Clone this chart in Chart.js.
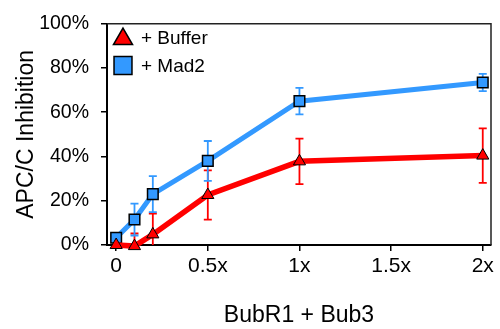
<!DOCTYPE html>
<html>
<head>
<meta charset="utf-8">
<script src="https://cdn.jsdelivr.net/npm/chart.js@4"></script>
<style>
  html, body { margin: 0; padding: 0; background: #fff; }
  #wrap { width: 500px; height: 329px; }
</style>
</head>
<body>
<div id="wrap"><canvas id="chart" width="500" height="329"></canvas></div>
<script>
const Colors = {
    RED: 'rgb(255, 0, 0)',
    BLUE: 'rgb(51, 153, 255)',
    BLACK: 'rgb(0, 0, 0)'
};

// BubR1 + Bub3 amount (relative)
const doses = [0, 0.1, 0.2, 0.5, 1, 2];
const tickValues = [0, 0.5, 1, 1.5, 2];
const tickLabels = ['0', '0.5x', '1x', '1.5x', '2x'];

// APC/C inhibition, %
const bufferValues = [0, -0.5, 4.8, 22.6, 37.8, 40.4];
const bufferErrors = [0, 5.7, 9.4, 11.1, 10.3, 12.3];
const mad2Values = [3.3, 11.5, 23.0, 38.0, 65.0, 73.4];
const mad2Errors = [0, 7.2, 8.1, 9.0, 6.0, 3.9];

const FONT = "'Liberation Sans', Arial, Helvetica, sans-serif";

function toPoints(values) {
    return doses.map((d, i) => ({ x: d, y: values[i] }));
}

// error bars (from the chart's scales), plot frame and the in-plot legend
const extras = {
    id: 'extras',
    beforeDatasetsDraw(chart) {
        const ctx = chart.ctx;
        const xs = chart.scales.x, ys = chart.scales.y;
        const area = chart.chartArea;
        ctx.save();
        ctx.beginPath();
        ctx.rect(area.left, area.top - 10, area.right - area.left, area.bottom - area.top + 10);
        ctx.clip();
        chart.data.datasets.forEach((ds) => {
            ctx.strokeStyle = ds.borderColor;
            ctx.lineWidth = 1.8;
            ds.errors.forEach((err, i) => {
                if (!err) return;
                const px = xs.getPixelForValue(doses[i]);
                const top = ys.getPixelForValue(ds.values[i] + err);
                const bot = ys.getPixelForValue(ds.values[i] - err);
                ctx.beginPath();
                ctx.moveTo(px, top); ctx.lineTo(px, bot);
                ctx.moveTo(px - 4, top); ctx.lineTo(px + 4, top);
                ctx.moveTo(px - 4, bot); ctx.lineTo(px + 4, bot);
                ctx.stroke();
            });
        });
        ctx.restore();
    },
    afterDraw(chart) {
        const { left, right, top, bottom } = chart.chartArea;
        const ctx = chart.ctx;
        ctx.save();
        ctx.strokeStyle = '#222';
        ctx.lineWidth = 1.5;
        ctx.beginPath();
        ctx.moveTo(left, top); ctx.lineTo(right, top); ctx.lineTo(right, bottom);
        ctx.stroke();

        // legend
        const rows = [
            { marker: 39, base: 43.5, r: 11 },
            { marker: 65.5, base: 72, r: 12.7 }
        ];
        chart.data.datasets.forEach((ds, i) => {
            const row = rows[i];
            ctx.fillStyle = ds.pointBackgroundColor;
            ctx.strokeStyle = ds.pointBorderColor;
            ctx.lineWidth = 1.5;
            Chart.helpers.drawPoint(ctx, {
                pointStyle: ds.pointStyle, radius: row.r, rotation: 0, borderWidth: 1.5
            }, left + 16, row.marker);
            ctx.fillStyle = Colors.BLACK;
            ctx.font = '19px ' + FONT;
            ctx.textBaseline = 'alphabetic';
            ctx.textAlign = 'left';
            ctx.fillText(ds.label, left + 34, row.base);
        });
        ctx.restore();
    }
};

const data = {
    datasets: [{
        label: '+ Buffer',
        data: toPoints(bufferValues),
        values: bufferValues,
        errors: bufferErrors,
        borderColor: Colors.RED,
        backgroundColor: Colors.RED,
        borderWidth: 5.5,
        pointStyle: 'triangle',
        pointRadius: 7,
        pointBackgroundColor: Colors.RED,
        pointBorderColor: Colors.BLACK,
        pointBorderWidth: 1,
        clip: false
    }, {
        label: '+ Mad2',
        data: toPoints(mad2Values),
        values: mad2Values,
        errors: mad2Errors,
        borderColor: Colors.BLUE,
        backgroundColor: Colors.BLUE,
        borderWidth: 5,
        pointStyle: 'rect',
        pointRadius: 7.5,
        pointBackgroundColor: Colors.BLUE,
        pointBorderColor: Colors.BLACK,
        pointBorderWidth: 1.5,
        clip: false
    }]
};

const config = {
    type: 'line',
    data: data,
    plugins: [extras],
    options: {
        responsive: false,
        animation: false,
        events: [],
        layout: { padding: { left: 0, right: 8, top: 19, bottom: 0 } },
        plugins: {
            legend: { display: false },
            tooltip: { enabled: false }
        },
        scales: {
            x: {
                type: 'linear',
                min: -0.05,
                max: 2.045,
                afterBuildTicks: (scale) => {
                    scale.ticks = tickValues.map(v => ({ value: v }));
                },
                afterFit: (scale) => { scale.height = 84; },
                ticks: {
                    color: Colors.BLACK,
                    padding: 3,
                    maxRotation: 0,
                    font: { family: FONT, size: 21 },
                    callback: (v) => tickLabels[tickValues.indexOf(v)]
                },
                grid: { drawOnChartArea: false, drawTicks: true, tickLength: 6, color: Colors.BLACK, lineWidth: 1.5 },
                border: { color: Colors.BLACK, width: 2 },
                title: {
                    display: true,
                    text: 'BubR1 + Bub3',
                    color: Colors.BLACK,
                    font: { family: FONT, size: 23 },
                    padding: { top: 0, bottom: 0 }
                }
            },
            y: {
                min: 0,
                max: 100,
                afterFit: (scale) => { scale.width = 107; },
                ticks: {
                    stepSize: 20,
                    color: Colors.BLACK,
                    padding: 12,
                    font: { family: FONT, size: 19.5 },
                    callback: (v) => v + '%'
                },
                grid: { drawOnChartArea: false, drawTicks: true, tickLength: 6, color: Colors.BLACK, lineWidth: 1.5 },
                border: { color: Colors.BLACK, width: 2 },
                title: {
                    display: true,
                    text: 'APC/C Inhibition',
                    color: Colors.BLACK,
                    font: { family: FONT, size: 23 },
                    padding: { top: 13, bottom: 0 }
                }
            }
        }
    }
};

const chart = new Chart(document.getElementById('chart'), config);
</script>
</body>
</html>
